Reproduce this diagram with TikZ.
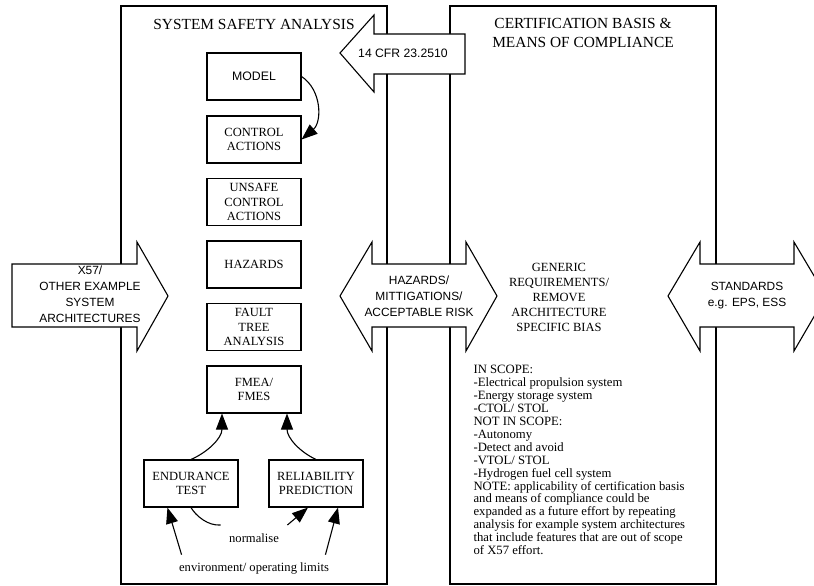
\documentclass[tikz,border=0pt]{standalone}
\usepackage{fontspec}
\setmainfont{Liberation Serif}
\newfontfamily\arialfont{Liberation Sans}
\usetikzlibrary{arrows.meta,calc}
\tikzset{
  flowtip/.tip={Triangle[length=16pt,width=12pt]},
}
\begin{document}
\begin{tikzpicture}[x=1pt,y=-1pt,
  line width=1.1pt, line join=miter,
  panel/.style={draw},
  blockarrow/.style={draw,fill=white},
  stepbox/.style={draw,minimum width=94pt,minimum height=47pt,inner sep=0pt,align=center,
    font=\fontsize{12.5}{14.5}\selectfont},
  arrowtext/.style={align=center,inner sep=0pt,font=\arialfont\fontsize{11.9}{16}\selectfont},
  titletext/.style={align=center,inner sep=0pt,font=\fontsize{15.4}{19}\selectfont},
  bodytext/.style={inner sep=0pt,font=\fontsize{12.6}{14.5}\selectfont},
  flow/.style={-flowtip},
]
\useasboundingbox (0,0) rectangle (814,586);
\clip (0,0) rectangle (814,586);

% the two main panels
\draw[panel] (121,6) rectangle (387,584);
\draw[panel] (450,6) rectangle (716,584);

% block arrows
\draw[blockarrow] (12,264) -- (137,264) -- (137,242) -- (168,296) -- (137,351)
  -- (137,327) -- (12,327) -- cycle;
\draw[blockarrow] (465,34) -- (374,34) -- (374,15) -- (340,53) -- (374,92)
  -- (374,74) -- (465,74) -- cycle;
\draw[blockarrow] (340,296) -- (372,242) -- (372,264) -- (466,264) -- (466,242)
  -- (497,296) -- (466,351) -- (466,327) -- (372,327) -- (372,351) -- cycle;
\draw[blockarrow] (668,296) -- (700,242) -- (700,264) -- (794,264) -- (794,242)
  -- (826,296) -- (794,351) -- (794,327) -- (700,327) -- (700,351) -- cycle;

% block arrow labels
\node[arrowtext] (archs) at (90,294.5) {X57/\\OTHER EXAMPLE\\SYSTEM\\ARCHITECTURES};
\node[arrowtext,font=\arialfont\fontsize{12.2}{16}\selectfont] (cfr) at (403,53.5) {14 CFR 23.2510};
\node[arrowtext] (hazrisk) at (419,296) {HAZARDS/\\MITTIGATIONS/\\ACCEPTABLE RISK};
\node[arrowtext] (stds) at (747,296) {STANDARDS\\e.g. EPS, ESS};

% panel titles
\node[titletext] (ssa) at (254,24) {SYSTEM SAFETY ANALYSIS};
\node[titletext] (cbmoc) at (583,32.5) {CERTIFICATION BASIS \&\\MEANS OF COMPLIANCE};

% analysis steps
\node[stepbox,font=\arialfont\fontsize{12.3}{14.5}\selectfont] (model) at (254,76.5) {MODEL};
\node[stepbox] (ctrl) at (254,139.5) {CONTROL\\ACTIONS};
\node[stepbox] (uca) at (254,202) {UNSAFE\\CONTROL\\ACTIONS};
\node[stepbox] (haz) at (254,264.5) {HAZARDS};
\node[stepbox] (fta) at (254,327) {FAULT\\TREE\\ANALYSIS};
\node[stepbox] (fmea) at (254,389.5) {FMEA/\\FMES};
\node[stepbox] (endu) at (191,483.5) {ENDURANCE\\TEST};
\node[stepbox] (reli) at (316,483.5) {RELIABILITY\\PREDICTION};

\node[bodytext,inner sep=8pt] (norm) at (254,538) {normalise};
\node[bodytext] (env) at (254,568) {environment/ operating limits};

% connectors
\draw[flow] (model.east) .. controls (322,90) and (322,122) .. (ctrl.east);
\draw[flow] (endu.north) .. controls (208,452) and (222,438) .. ($(fmea.south)+(-32,0)$);
\draw[flow] (reli.north) .. controls (300,452) and (287,438) .. ($(fmea.south)+(33,0)$);
\draw (endu.south) .. controls (196,516) and (208,526) .. (norm.north west);
\draw[flow] (norm.north east) -- ($(reli.south)+(-8,0)$);
\draw[flow] ($(env.north west)+(3,-7)$) -- ($(endu.south west)+(24,0)$);
\draw[flow] ($(env.north east)+(-4,-7)$) -- ($(reli.south)+(22,0)$);

% certification text
\node[bodytext,align=center,font=\fontsize{12.5}{15}\selectfont] (generic) at (559,297)
  {GENERIC\\REQUIREMENTS/\\REMOVE\\ARCHITECTURE\\SPECIFIC BIAS};
\node[bodytext,align=left,anchor=north west,font=\fontsize{12.7}{12.9}\selectfont] (scope) at (473,365)
  {IN SCOPE:\\
   -Electrical propulsion system\\
   -Energy storage system\\
   -CTOL/ STOL\\
   NOT IN SCOPE:\\
   -Autonomy\\
   -Detect and avoid\\
   -VTOL/ STOL\\
   -Hydrogen fuel cell system\\
   NOTE: applicability of certification basis\\
   and means of compliance could be\\
   expanded as a future effort by repeating\\
   analysis for example system architectures\\
   that include features that are out of scope\\
   of X57 effort.};
\end{tikzpicture}
\end{document}
